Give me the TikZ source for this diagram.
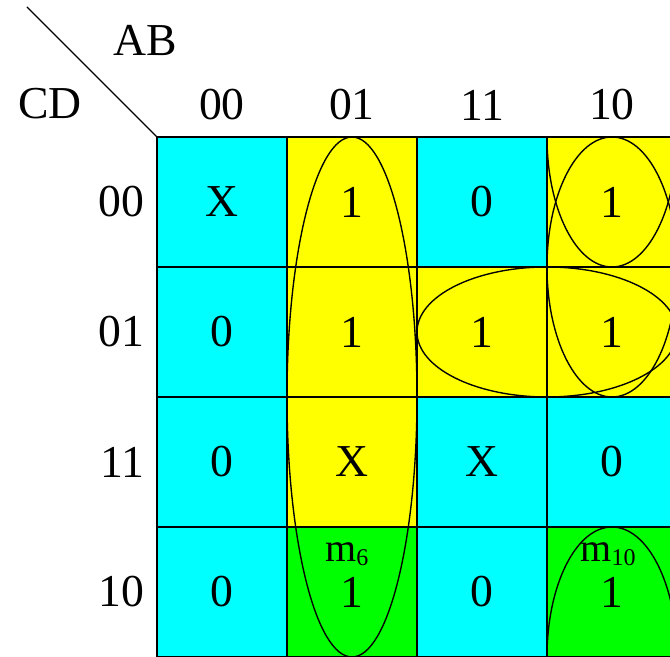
\documentclass[tikz,border=0pt]{standalone}
\usepackage{fontspec}
\setmainfont{Liberation Serif}
\usetikzlibrary{positioning,calc}
\definecolor{kmcyan}{HTML}{00FFFF}
\definecolor{kmyellow}{HTML}{FFFF00}
\definecolor{kmgreen}{HTML}{00FF00}
\newcommand{\mterm}[1]{{\fontsize{17.5}{20}\selectfont m\raisebox{-1.8pt}{\fontsize{10.5}{12}\selectfont #1}}}

\begin{document}
\begin{tikzpicture}[x=2cm,y=2cm,font=\fontsize{20}{24}\selectfont,line width=0.6pt]
\useasboundingbox (-1.2077,1.0538) rectangle (3.9462,-4);
% corner
\draw (-1,1) -- (0,0);
\node (ab) at (-0.092,0.746) {AB};
\node (cd) at (-0.823,0.254) {CD};
% column and row labels
\foreach \c/\lab in {0/00,1/01,2/11,3/10}
  \node (col\c) at (\c+0.5,0.246) {\lab};
\foreach \r/\lab in {0/00,1/01,2/11,3/10}
  \node[anchor=east,inner sep=0pt] (row\r) at (-0.092,-\r-0.5) {\lab};
% cells
\foreach \r/\c/\col/\val in {0/0/kmcyan/X,0/1/kmyellow/1,0/2/kmcyan/0,0/3/kmyellow/1,
  1/0/kmcyan/0,1/1/kmyellow/1,1/2/kmyellow/1,1/3/kmyellow/1,
  2/0/kmcyan/0,2/1/kmyellow/X,2/2/kmcyan/X,2/3/kmcyan/0,
  3/0/kmcyan/0,3/1/kmgreen/1,3/2/kmcyan/0,3/3/kmgreen/1}{
  \draw[fill=\col] (\c,-\r) rectangle (\c+1,-\r-1);
  \node (cell\r\c) at (\c+0.5,-\r-0.5) {\val};
}
\node[anchor=base] (m6) at (1.46,-3.262) {\mterm{6}};
\node[anchor=base] (m10) at (3.47,-3.262) {\mterm{10}};
% groups
\begin{scope}
\clip (0,0) rectangle (4,-4);
\draw (1.5,-2) ellipse [x radius=0.5,y radius=2];
\draw (3,-1.5) ellipse [x radius=1,y radius=0.5];
\draw (3.5,-1) ellipse [x radius=0.5,y radius=1];
\draw (3.5,0) ellipse [x radius=0.5,y radius=1];
\draw (3.5,-4) ellipse [x radius=0.5,y radius=1];
\end{scope}
\end{tikzpicture}
\end{document}
